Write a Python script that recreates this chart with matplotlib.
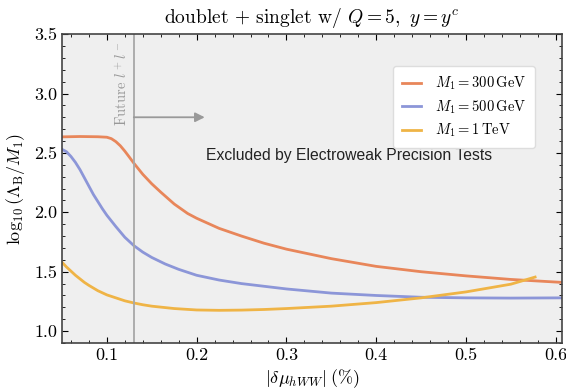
import numpy as np
import matplotlib
matplotlib.use("Agg")
import matplotlib.pyplot as plt

plt.rcParams["mathtext.fontset"] = "cm"
plt.rcParams["font.family"] = ["cmr10", "DejaVu Serif"]
plt.rcParams["axes.formatter.use_mathtext"] = True

# curves, x in %, y = log10(Lambda_B / M_1)
x_300 = [0.05, 0.07, 0.09, 0.10, 0.105, 0.11, 0.115, 0.12, 0.125, 0.13, 0.14,
         0.15, 0.16, 0.175, 0.19, 0.20, 0.225, 0.25, 0.275, 0.30, 0.35, 0.40,
         0.45, 0.50, 0.55, 0.607]
y_300 = [2.635, 2.638, 2.636, 2.632, 2.62, 2.595, 2.56, 2.515, 2.465, 2.414, 2.32,
         2.24, 2.17, 2.07, 1.99, 1.95, 1.865, 1.80, 1.74, 1.69, 1.61, 1.545,
         1.50, 1.465, 1.435, 1.41]

x_500 = [0.05, 0.055, 0.06, 0.065, 0.07, 0.075, 0.08, 0.085, 0.09, 0.095, 0.10,
         0.11, 0.12, 0.13, 0.14, 0.15, 0.165, 0.18, 0.20, 0.225, 0.25, 0.30,
         0.35, 0.40, 0.45, 0.50, 0.55, 0.607]
y_500 = [2.53, 2.51, 2.47, 2.42, 2.36, 2.29, 2.22, 2.15, 2.09, 2.03, 1.975,
         1.88, 1.79, 1.72, 1.665, 1.62, 1.565, 1.52, 1.47, 1.43, 1.40, 1.355,
         1.32, 1.30, 1.285, 1.28, 1.278, 1.28]

x_1000 = [0.05, 0.055, 0.06, 0.065, 0.07, 0.075, 0.08, 0.09, 0.10, 0.11, 0.12,
          0.13, 0.14, 0.15, 0.175, 0.20, 0.225, 0.25, 0.275, 0.30, 0.35, 0.40,
          0.45, 0.50, 0.55, 0.577]
y_1000 = [1.58, 1.54, 1.505, 1.47, 1.44, 1.41, 1.385, 1.34, 1.305, 1.28, 1.255,
          1.237, 1.222, 1.21, 1.19, 1.178, 1.175, 1.177, 1.182, 1.19, 1.21, 1.24,
          1.28, 1.33, 1.395, 1.455]

labels = [r"$M_1 = 300\,\mathrm{GeV}$", r"$M_1 = 500\,\mathrm{GeV}$", r"$M_1 = 1\,\mathrm{TeV}$"]
colors = ["#e8865a", "#8c96d8", "#efb446"]
future_x = 0.13

fig = plt.figure(figsize=(5.66, 3.92), dpi=100)
ax = fig.add_axes([0.1095, 0.125, 0.8835, 0.788])
ax.set_facecolor("#efefef")

for xs, ys, lab, c in zip([x_300, x_500, x_1000], [y_300, y_500, y_1000], labels, colors):
    ax.plot(xs, ys, color=c, lw=2.0, label=lab, solid_joinstyle="round")

ax.axvline(future_x, color="#a8a8a8", lw=1.3)
ax.annotate("", xy=(0.209, 2.80), xytext=(future_x, 2.80),
            arrowprops=dict(arrowstyle="-|>", color="#999999", lw=1.3,
                            mutation_scale=14, shrinkA=0, shrinkB=0))
ax.text(future_x - 0.004, 2.73, r"Future $l^+l^-$", rotation=90, color="#999999",
        ha="right", va="bottom", fontsize=10.5)
ax.text(0.37, 2.48, "Excluded by Electroweak Precision Tests", family="Liberation Sans",
        fontsize=11.3, ha="center", va="center", color="#222222")

ax.set_xlim(0.05, 0.607)
ax.set_ylim(0.9, 3.5)
ax.set_xticks([0.1, 0.2, 0.3, 0.4, 0.5, 0.6])
ax.set_yticks([1.0, 1.5, 2.0, 2.5, 3.0, 3.5])
ax.set_xticks(np.arange(0.06, 0.607, 0.02), minor=True)
ax.set_yticks(np.arange(0.9, 3.5, 0.1), minor=True)
ax.xaxis.set_major_formatter(matplotlib.ticker.FormatStrFormatter("%.1f"))
ax.yaxis.set_major_formatter(matplotlib.ticker.FormatStrFormatter("%.1f"))
ax.tick_params(which="both", direction="in", top=True, right=True, labelsize=13)
ax.tick_params(which="major", length=4, width=0.8)
ax.tick_params(which="minor", length=2, width=0.6)
for s in ax.spines.values():
    s.set_color("#444444")
    s.set_linewidth(1.2)

ax.set_xlabel(r"$|\delta\mu_{hWW}|\;(\%)$", fontsize=13, labelpad=3)
ax.set_ylabel(r"$\log_{10}(\Lambda_{\rm B}/M_1)$", fontsize=13, labelpad=5)
ax.set_title(r"doublet + singlet w/ $Q=5,\ y=y^c$", fontsize=14, pad=8)

leg = ax.legend(loc="upper left", bbox_to_anchor=(0.662, 0.896), fontsize=10.5,
                handlelength=1.3, handletextpad=1.0, frameon=True, fancybox=True,
                borderpad=0.6, labelspacing=0.4, borderaxespad=0)
leg.get_frame().set_facecolor("white")
leg.get_frame().set_edgecolor("#dddddd")
leg.get_frame().set_alpha(1)

fig.savefig("out.png", dpi=100)
